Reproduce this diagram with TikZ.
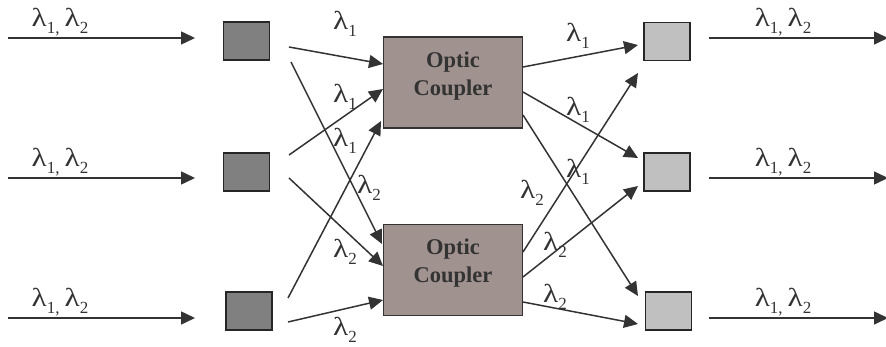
\documentclass[tikz,border=0pt]{standalone}
\usepackage{fontspec}
\setmainfont{Liberation Serif}
\usetikzlibrary{arrows.meta}
\definecolor{ink}{HTML}{333333}
\definecolor{darkbox}{HTML}{808080}
\definecolor{lightbox}{HTML}{C0C0C0}
\definecolor{coup}{HTML}{A0928E}
\newcommand\lam{\scalebox{1.2}[1]{λ}}
\newcommand\lsub[2]{#1\raisebox{-0.28em}{\fontsize{17}{17}\selectfont #2}}
\newcommand\lpair{\lsub{\lam}{1,}\hspace{5pt}\lsub{\lam}{2}}
\begin{document}
\begin{tikzpicture}[x=1pt,y=-1pt,
  conn/.style={draw=ink, line width=1.5pt, -{Triangle[length=14pt,width=13pt]}},
  inbox/.style={draw=black!85, line width=1.8pt, fill=darkbox, minimum width=46pt, minimum height=38pt, inner sep=0pt},
  outbox/.style={draw=black!85, line width=1.8pt, fill=lightbox, minimum width=46pt, minimum height=38pt, inner sep=0pt},
  coupler/.style={draw=ink, line width=1.5pt, fill=coup, minimum width=139pt, minimum height=91pt, inner sep=0pt},
  ctext/.style={font=\fontsize{22.5}{28}\selectfont\bfseries, text=ink, align=center, inner sep=0pt},
  lab/.style={font=\fontsize{26}{26}\selectfont, text=ink, inner sep=0pt}
]
\useasboundingbox (0,0) rectangle (886,347);

% boxes
\node[inbox] (L1) at (246.5,41) {};
\node[inbox] (L2) at (246.5,172) {};
\node[inbox] (L3) at (249,311) {};
\node[outbox] (R1) at (667,41.5) {};
\node[outbox] (R2) at (667,172) {};
\node[outbox] (R3) at (668.5,311) {};
\node[coupler] (C1) at (453,82.5) {};
\node[coupler] (C2) at (453,270) {};
\node[ctext] (T1) at (453,76) {Optic\\Coupler};
\node[ctext] (T2) at (453,263) {Optic\\Coupler};

% input / output arrows
\coordinate (i1) at (8,38);  \coordinate (i1e) at (195,38);
\coordinate (i2) at (8,178); \coordinate (i2e) at (195,178);
\coordinate (i3) at (8,318); \coordinate (i3e) at (195,318);
\coordinate (o1) at (709,38);  \coordinate (o1e) at (888,38);
\coordinate (o2) at (709,178); \coordinate (o2e) at (888,178);
\coordinate (o3) at (709,318); \coordinate (o3e) at (888,318);
\draw[conn] (i1) -- (i1e);
\draw[conn] (i2) -- (i2e);
\draw[conn] (i3) -- (i3e);
\draw[conn] (o1) -- (o1e);
\draw[conn] (o2) -- (o2e);
\draw[conn] (o3) -- (o3e);
\node[lab] (li1) at (60,22) {\lpair};
\node[lab] (li2) at (60,162) {\lpair};
\node[lab] (li3) at (60,302) {\lpair};
\node[lab] (lo1) at (783,22) {\lpair};
\node[lab] (lo2) at (783,162) {\lpair};
\node[lab] (lo3) at (783,302) {\lpair};

% left connectors
\coordinate (a1) at (289,47);  \coordinate (a2) at (383,64);
\coordinate (b1) at (291,62);  \coordinate (b2) at (382,244);
\coordinate (c1) at (289,155); \coordinate (c2) at (383,89);
\coordinate (d1) at (289,178); \coordinate (d2) at (383,266);
\coordinate (e1) at (288,298); \coordinate (e2) at (381,121);
\coordinate (f1) at (288,322); \coordinate (f2) at (383,300);
\draw[conn] (a1) -- (a2);
\draw[conn] (b1) -- (b2);
\draw[conn] (c1) -- (c2);
\draw[conn] (d1) -- (d2);
\draw[conn] (e1) -- (e2);
\draw[conn] (f1) -- (f2);

% right connectors
\coordinate (g1) at (523,67);  \coordinate (g2) at (638,45);
\coordinate (h1) at (523,92);  \coordinate (h2) at (638,158);
\coordinate (k1) at (523,115); \coordinate (k2) at (638,296);
\coordinate (j1) at (523,252); \coordinate (j2) at (638,73);
\coordinate (m1) at (523,277); \coordinate (m2) at (638,186);
\coordinate (n1) at (523,302); \coordinate (n2) at (638,324);
\draw[conn] (g1) -- (g2);
\draw[conn] (h1) -- (h2);
\draw[conn] (k1) -- (k2);
\draw[conn] (j1) -- (j2);
\draw[conn] (m1) -- (m2);
\draw[conn] (n1) -- (n2);

% wavelength labels
\node[lab] (la) at (345,24) {\lsub{\lam}{1}};
\node[lab] (lc) at (345,97) {\lsub{\lam}{1}};
\node[lab] (le) at (345,141) {\lsub{\lam}{1}};
\node[lab] (lb) at (369,188) {\lsub{\lam}{2}};
\node[lab] (ld) at (345,252) {\lsub{\lam}{2}};
\node[lab] (lf) at (345,330) {\lsub{\lam}{2}};
\node[lab] (lg) at (578,36) {\lsub{\lam}{1}};
\node[lab] (lh) at (578,110) {\lsub{\lam}{1}};
\node[lab] (lk) at (578,172) {\lsub{\lam}{1}};
\node[lab] (lj) at (532,193) {\lsub{\lam}{2}};
\node[lab] (lm) at (555,245) {\lsub{\lam}{2}};
\node[lab] (ln) at (555,297) {\lsub{\lam}{2}};
\end{tikzpicture}
\end{document}
